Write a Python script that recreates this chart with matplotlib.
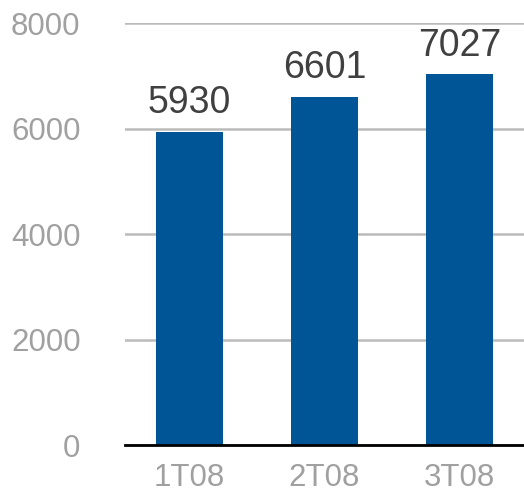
import matplotlib.pyplot as plt

quarters = ['1T08', '2T08', '3T08']
values = [5930, 6601, 7027]
yticks = [0, 2000, 4000, 6000, 8000]

plt.rcParams['font.family'] = ['Liberation Sans', 'DejaVu Sans']

fig = plt.figure(figsize=(5.24, 4.98), dpi=100)
ax = fig.add_axes([0.2385, 0.1064, 0.7615, 0.8474])

xs = range(len(quarters))
ax.bar(xs, values, width=0.5, color='#005596', zorder=3)

for x, v in zip(xs, values):
    ax.annotate(str(v), (x, v), xytext=(0, 13.5), textcoords='offset points',
                ha='center', va='baseline', fontsize=27, color='#404040')

ax.set_xlim(-0.48, 2.48)
ax.set_ylim(0, 8000)
ax.set_yticks(yticks)
ax.set_xticks(list(xs))
ax.set_xticklabels(quarters)

ax.yaxis.grid(True, color='#bbbbbb', linewidth=1.8, zorder=0)
for s in ['top', 'right', 'left']:
    ax.spines[s].set_visible(False)
ax.spines['bottom'].set_color('black')
ax.spines['bottom'].set_linewidth(2)
ax.spines['bottom'].set_zorder(4)
ax.tick_params(axis='both', length=0, labelsize=22.5, colors='#a0a0a0')
ax.tick_params(axis='y', pad=32)
ax.tick_params(axis='x', pad=13)

fig.savefig('out.png', dpi=100)
